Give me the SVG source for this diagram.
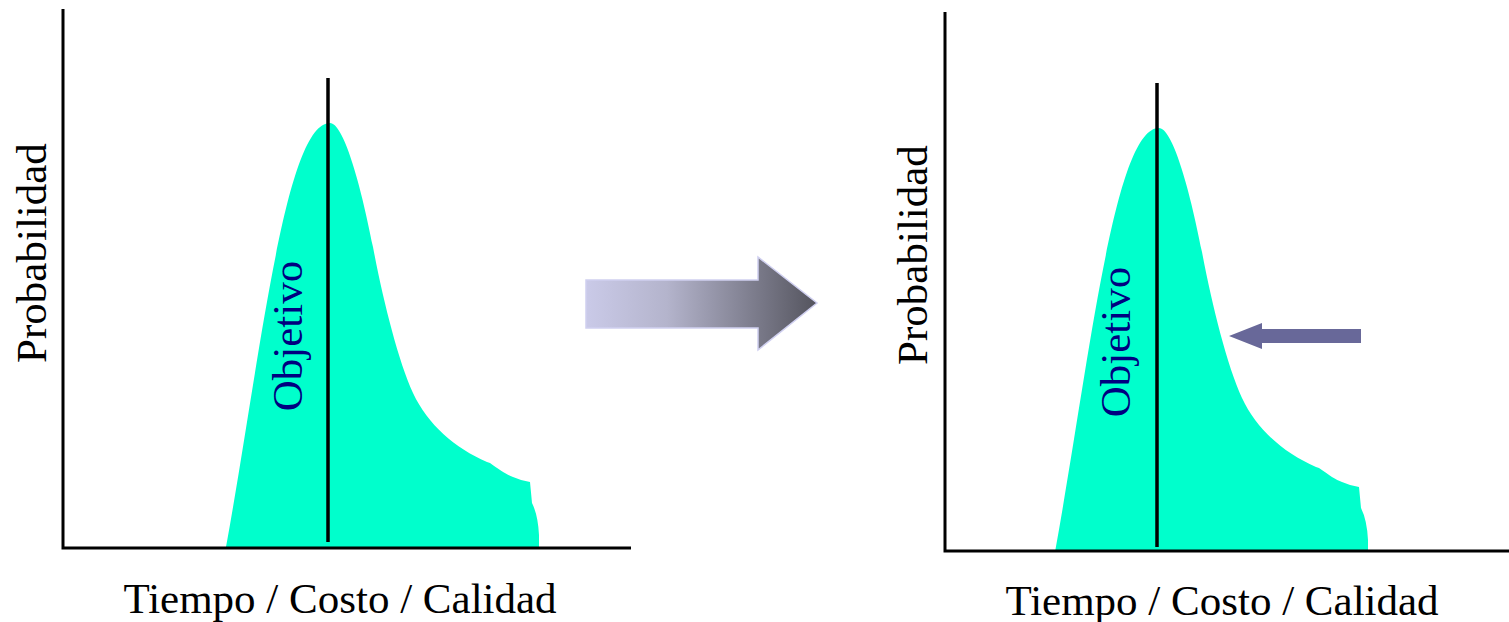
<svg xmlns="http://www.w3.org/2000/svg" width="1509" height="622" viewBox="0 0 1509 622">
<defs>
<style>
.axis{stroke:#000;stroke-width:3;fill:none}
.target{stroke:#000;stroke-width:3.5;fill:none}
.curve{fill:#00ffcc;stroke:none}
.lbl{font-family:"Liberation Serif","Times New Roman",serif;font-size:43px;fill:#000}
.obj{font-family:"Liberation Serif","Times New Roman",serif;font-size:43px;fill:#000080}
</style>
<linearGradient id="bigGrad" x1="586" y1="0" x2="817" y2="0" gradientUnits="userSpaceOnUse">
<stop offset="0" stop-color="#cacae8"/>
<stop offset="0.35" stop-color="#b4b4cc"/>
<stop offset="1" stop-color="#54545e"/>
</linearGradient>
<path id="dist" d="M226,547 C260,360 285,123 330,123 C343,123 360,180 373,247 C383,300 398,360 413,393 C428,425 455,448 487,462 L490,463 C500,470 507,475 513,477 Q522,481 530,482 L532,503 Q538,515 539,535 L539,547 Z"/>
</defs>
<rect width="1509" height="622" fill="#fff"/>

<g id="chart-left">
<use href="#dist" class="curve"/>
<line class="target" x1="328" y1="78" x2="328" y2="542"/>
<polyline class="axis" points="63,9 63,548 631,548"/>
<text class="obj" transform="translate(302,336) rotate(-90)" text-anchor="middle">Objetivo</text>
<text class="lbl" transform="translate(46,253) rotate(-90)" text-anchor="middle">Probabilidad</text>
<text class="lbl" x="340" y="613" text-anchor="middle">Tiempo / Costo / Calidad</text>
</g>

<g id="chart-right">
<use href="#dist" class="curve" transform="translate(829,5)"/>
<line class="target" x1="1157" y1="83" x2="1157" y2="547"/>
<polyline class="axis" points="945,12 945,551 1509,551"/>
<text class="obj" transform="translate(1130,342) rotate(-90)" text-anchor="middle">Objetivo</text>
<text class="lbl" transform="translate(927,255) rotate(-90)" text-anchor="middle">Probabilidad</text>
<text class="lbl" x="1222" y="615" text-anchor="middle">Tiempo / Costo / Calidad</text>
</g>

<g id="connectors">
<polygon id="big-arrow" points="586,280 758,280 758,257 817,303 758,350 758,328 586,328" fill="url(#bigGrad)" stroke="#d0d0f0" stroke-width="1.5"/>
<polygon id="small-arrow" points="1229,336 1262,323 1262,329 1361,329 1361,343 1262,343 1262,349" fill="#686899"/>
</g>
</svg>
